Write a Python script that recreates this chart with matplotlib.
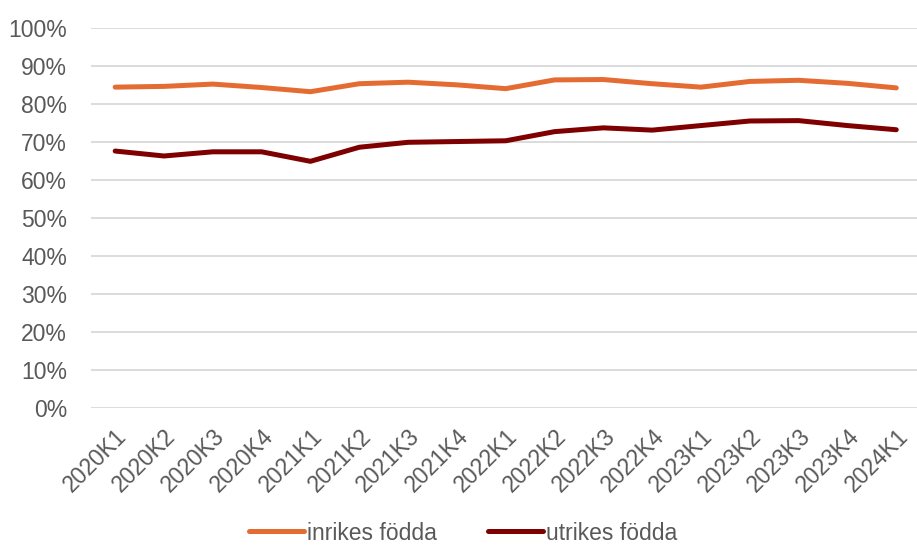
import matplotlib
matplotlib.use("Agg")
import matplotlib.pyplot as plt
from matplotlib.ticker import FuncFormatter

categories = ["2020K1", "2020K2", "2020K3", "2020K4", "2021K1", "2021K2", "2021K3", "2021K4",
              "2022K1", "2022K2", "2022K3", "2022K4", "2023K1", "2023K2", "2023K3", "2023K4", "2024K1"]
inrikes = [84.4, 84.6, 85.2, 84.3, 83.2, 85.3, 85.7, 85.0, 84.0, 86.3, 86.4, 85.3, 84.4, 85.9, 86.2, 85.4, 84.2]
utrikes = [67.6, 66.3, 67.4, 67.4, 64.9, 68.6, 69.9, 70.1, 70.3, 72.7, 73.7, 73.1, 74.3, 75.5, 75.6, 74.3, 73.2]
yticks = list(range(0, 101, 10))

plt.rcParams['font.family'] = ['Liberation Sans', 'DejaVu Sans']
grey = "#595959"

fig = plt.figure(figsize=(9.17, 5.45), dpi=100)
ax = fig.add_axes([0.099, 0.251, 0.905, 0.698])

x = list(range(len(categories)))
ax.plot(x, inrikes, color="#E46C33", lw=3.6, solid_capstyle="round", label="inrikes födda")
ax.plot(x, utrikes, color="#7F0000", lw=3.6, solid_capstyle="round", label="utrikes födda")

ax.set_xlim(-0.5, len(categories) - 0.5)
ax.set_ylim(0, 100)
ax.set_yticks(yticks)
ax.yaxis.set_major_formatter(FuncFormatter(lambda v, p: f"{int(v)}%"))
ax.grid(axis="y", color="#d9d9d9", lw=1.3)
ax.set_axisbelow(True)
for s in ax.spines.values():
    s.set_visible(False)
ax.tick_params(axis="both", length=0, labelsize=16.5, labelcolor=grey)
ax.tick_params(axis="y", pad=17)
ax.tick_params(axis="x", pad=12)
ax.set_xticks(x)
ax.set_xticklabels(categories, rotation=45, ha="right", rotation_mode="anchor")

leg = fig.legend(loc="center", bbox_to_anchor=(0.505, 0.022), ncol=2, frameon=False,
                 fontsize=16.5, handlelength=2.4, handletextpad=0.15, columnspacing=2.2,
                 labelcolor=grey)
fig.savefig("out.png", dpi=100)
